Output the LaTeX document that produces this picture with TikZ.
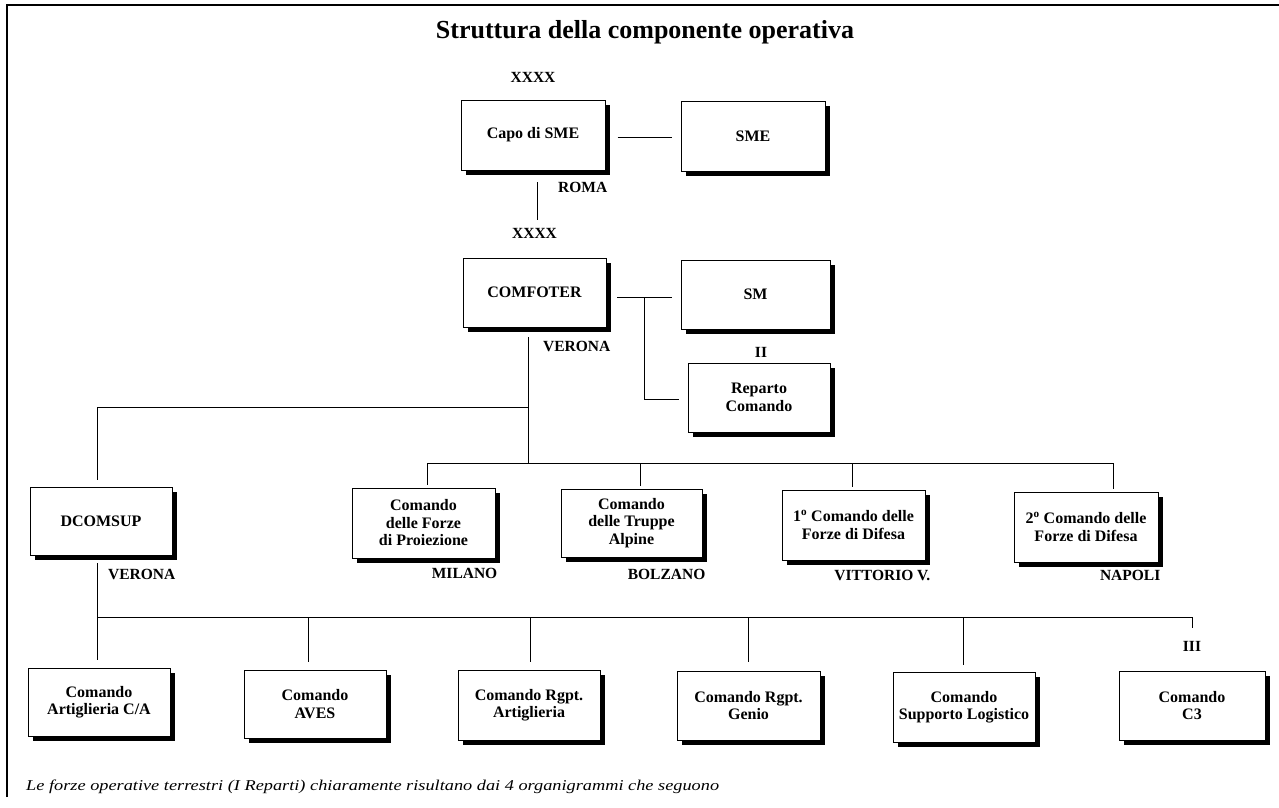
\documentclass[tikz,border=0pt]{standalone}
\usepackage{fontspec}
\setmainfont{Liberation Serif}
\usetikzlibrary{shadows}
\begin{document}
\begin{tikzpicture}[x=1pt,y=-1pt,
  box/.style={draw, line width=1pt, fill=white, align=center, inner sep=0pt,
    font=\bfseries\fontsize{16}{17.5}\selectfont,
    drop shadow={shadow xshift=4.5pt, shadow yshift=-4.5pt, fill=black, opacity=1}},
  lbl/.style={font=\bfseries\fontsize{15.5}{17}\selectfont, inner sep=0pt},
  conn/.style={line width=1pt}]
\useasboundingbox (0,0) rectangle (1279,807);
\fill[white] (0,0) rectangle (1279,807);
% frame
\draw[line width=1.2pt] (7,797) -- (7,5) -- (1279,5);
% title
\node[font=\bfseries\fontsize{26}{30}\selectfont, anchor=base, inner sep=0pt] (title) at (645,38) {Struttura della componente operativa};
% boxes
\node[box, minimum width=144pt, minimum height=70pt] (capo) at (533,135) {Capo di SME};
\node[box, minimum width=144pt, minimum height=70pt] (sme) at (753,136) {SME};
\node[box, minimum width=143pt, minimum height=69pt] (comfoter) at (534.5,292.5) {COMFOTER};
\node[box, minimum width=149pt, minimum height=69pt] (sm) at (755.5,294.5) {SM};
\node[box, minimum width=142pt, minimum height=69pt] (reparto) at (759,397.5) {Reparto\\Comando};
\node[box, minimum width=142pt, minimum height=68pt] (dcomsup) at (101,521) {DCOMSUP};
\node[box, minimum width=143pt, minimum height=70pt] (proiez) at (423.5,523) {Comando\\delle Forze\\di Proiezione};
\node[box, minimum width=141pt, minimum height=68pt] (alpine) at (631.5,523) {Comando\\delle Truppe\\Alpine};
\node[box, minimum width=143pt, minimum height=70pt] (difesa1) at (853.5,525) {1\textsuperscript{o} Comando delle\\Forze di Difesa};
\node[box, minimum width=144pt, minimum height=70pt] (difesa2) at (1086,527) {2\textsuperscript{o} Comando delle\\Forze di Difesa};
\node[box, minimum width=142pt, minimum height=68pt] (artca) at (99,702) {Comando\\Artiglieria C/A};
\node[box, minimum width=142pt, minimum height=68pt] (aves) at (315,704) {Comando\\AVES};
\node[box, minimum width=142pt, minimum height=70pt] (rgptart) at (529,705) {Comando Rgpt.\\Artiglieria};
\node[box, minimum width=143pt, minimum height=69pt] (genio) at (748.5,705.5) {Comando Rgpt.\\Genio};
\node[box, minimum width=142pt, minimum height=70pt] (logist) at (964,707) {Comando\\Supporto Logistico};
\node[box, minimum width=146pt, minimum height=69pt] (c3) at (1192,705.5) {Comando\\C3};
% echelon labels
\node[lbl, anchor=base] (xa) at ([yshift=17pt]capo.north) {XXXX};
\node[lbl, anchor=base] (xb) at ([yshift=19pt]comfoter.north) {XXXX};
\node[lbl, anchor=base] (ii) at ([xshift=2pt,yshift=5pt]reparto.north) {II};
\node[lbl, anchor=base] (iii) at ([yshift=19pt]c3.north) {III};
% city labels
\node[lbl, anchor=base east] (roma) at ([xshift=2pt,yshift=-22pt]capo.south east) {ROMA};
\node[lbl, anchor=base east] (verona1) at ([xshift=4pt,yshift=-24pt]comfoter.south east) {VERONA};
\node[lbl, anchor=base east] (verona2) at ([xshift=3pt,yshift=-24pt]dcomsup.south east) {VERONA};
\node[lbl, anchor=base east] (milano) at ([xshift=2pt,yshift=-20pt]proiez.south east) {MILANO};
\node[lbl, anchor=base east] (bolzano) at ([xshift=3pt,yshift=-22pt]alpine.south east) {BOLZANO};
\node[lbl, anchor=base east] (vittorio) at ([xshift=5pt,yshift=-20pt]difesa1.south east) {VITTORIO V.};
\node[lbl, anchor=base east] (napoli) at ([xshift=2pt,yshift=-18pt]difesa2.south east) {NAPOLI};
% connectors top
\draw[conn] ([xshift=12pt,yshift=-2pt]capo.east) -- ([xshift=-9pt,yshift=-1pt]sme.west);
\coordinate (j0a) at (537,182);
\coordinate (j0b) at (537,220);
\draw[conn] (j0a) -- (j0b);
\coordinate (a1) at (617,297);
\coordinate (a2) at (672,297);
\coordinate (j1) at (644,297);
\draw[conn] (a1) -- (a2);
\draw[conn] (j1) |- ([xshift=-9pt,yshift=-2pt]reparto.west);
% comfoter down
\coordinate (v1) at (528,337);
\coordinate (v2) at (528,463);
\coordinate (v3) at (528,407);
\coordinate (d1) at (97,480);
\draw[conn] (v1) -- (v2);
\draw[conn] (v3) -| (d1);
% crossbar row 2
\coordinate (b1w) at (427,463);
\coordinate (b1e) at (1113,463);
\draw[conn] (b1w) -- (b1e);
\draw[conn] (b1w) -- ([xshift=3.5pt,yshift=3pt]proiez.north);
\draw[conn] ([xshift=8.5pt]alpine.north |- b1w) -- ([xshift=8.5pt,yshift=3pt]alpine.north);
\draw[conn] ([xshift=-1.5pt]difesa1.north |- b1w) -- ([xshift=-1.5pt,yshift=3pt]difesa1.north);
\draw[conn] (b1e) -- ([xshift=27pt,yshift=3pt]difesa2.north);
% dcomsup down
\coordinate (e1) at (97,563);
\coordinate (e2) at (97,617);
\coordinate (b2e) at (1192,617);
\draw[conn] (e1) -- ([xshift=-2pt,yshift=8pt]artca.north);
\draw[conn] (e2) -- (b2e);
\draw[conn] ([xshift=-7pt]aves.north |- e2) -- ([xshift=-7pt,yshift=8pt]aves.north);
\draw[conn] ([xshift=1pt]rgptart.north |- e2) -- ([xshift=1pt,yshift=8pt]rgptart.north);
\draw[conn] ([xshift=-0.5pt]genio.north |- e2) -- ([xshift=-0.5pt,yshift=9pt]genio.north);
\draw[conn] ([xshift=-1pt]logist.north |- e2) -- ([xshift=-1pt,yshift=7pt]logist.north);
\draw[conn] (b2e) -- ([yshift=13pt]iii.north);
% footnote
\node[anchor=base west, inner sep=0pt, font=\itshape\fontsize{15}{17}\selectfont\addfontfeature{FakeStretch=1.22}] (foot) at (26,790) {Le forze operative terrestri (I Reparti) chiaramente risultano dai 4 organigrammi che seguono};
\end{tikzpicture}
\end{document}
